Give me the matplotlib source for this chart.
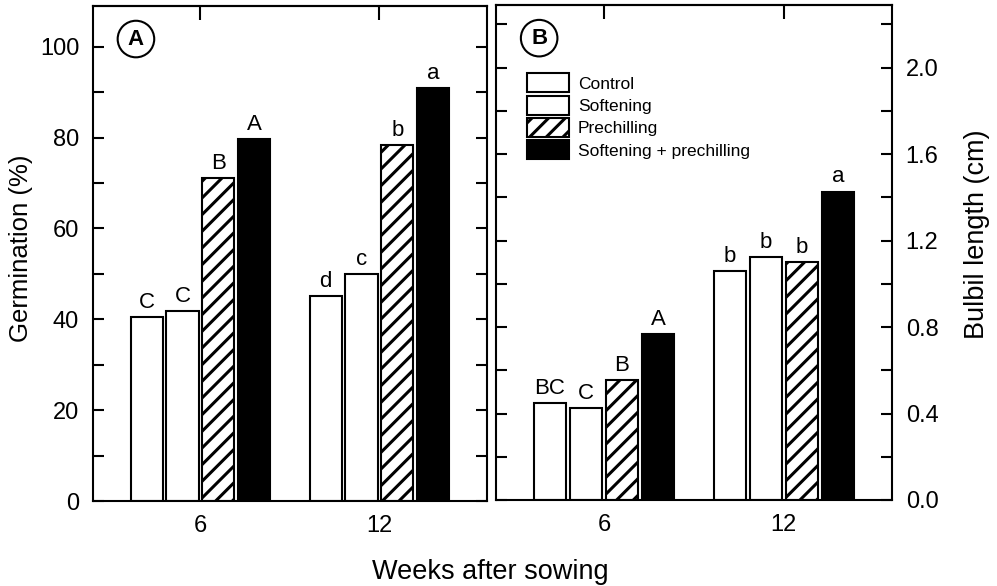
import matplotlib
matplotlib.use("Agg")
import matplotlib.pyplot as plt
import numpy as np
from matplotlib.patches import Patch
from matplotlib.ticker import MultipleLocator, FormatStrFormatter

plt.rcParams["font.family"] = ["Liberation Sans", "DejaVu Sans"]
plt.rcParams["hatch.linewidth"] = 2.2

# data
weeks = ["6", "12"]
treatments = ["Control", "Softening", "Prechilling", "Softening + prechilling"]
germination = [
    [40.4, 45.2],   # Control
    [41.9, 50.0],   # Softening
    [71.1, 78.3],   # Prechilling
    [79.7, 90.9],   # Softening + prechilling
]
germ_letters = [["C", "d"], ["C", "c"], ["B", "b"], ["A", "a"]]
bulbil = [
    [0.45, 1.057],
    [0.426, 1.125],
    [0.556, 1.099],
    [0.767, 1.427],
]
bulbil_letters = [["BC", "b"], ["C", "b"], ["B", "b"], ["A", "a"]]

faces = ["white", "white", "white", "black"]
hatches = [None, None, "//", None]
offsets = [-0.3, -0.1, 0.1, 0.3]
width = 0.18

fig = plt.figure(figsize=(9.97, 5.86), dpi=100)
axA = fig.add_axes([0.0933, 0.145, 0.395, 0.845])
axB = fig.add_axes([0.4975, 0.1468, 0.397, 0.8447])

x = np.arange(len(weeks))


def draw_bars(ax, values, letters):
    for i in range(len(treatments)):
        bars = ax.bar(x + offsets[i], values[i], width, color=faces[i],
                      edgecolor="black", linewidth=1.5, hatch=hatches[i],
                      label=treatments[i])
        for b, lab in zip(bars, letters[i]):
            ax.annotate(lab, (b.get_x() + b.get_width() / 2, b.get_height()),
                        xytext=(0, 3), textcoords="offset points",
                        ha="center", va="bottom", fontsize=16)


def style(ax):
    ax.set_xlim(-0.6, 1.6)
    ax.set_xticks(x)
    ax.set_xticklabels(weeks, fontsize=17)
    ax.tick_params(axis="x", length=0, pad=10)
    for spine in ax.spines.values():
        spine.set_linewidth(1.5)
    # short inward ticks on the top edge only
    sec = ax.secondary_xaxis("top")
    sec.set_xticks(x)
    sec.set_xticklabels([])
    sec.tick_params(direction="in", length=10, width=1.5)
    sec.spines["top"].set_linewidth(1.5)


# panel A
draw_bars(axA, germination, germ_letters)
style(axA)
axA.set_ylim(0, 109)
axA.yaxis.set_major_locator(MultipleLocator(20))
axA.yaxis.set_minor_locator(MultipleLocator(10))
axA.tick_params(axis="y", which="both", direction="in", left=True, right=True,
                length=8, width=1.5, labelsize=17, pad=10)
axA.set_ylabel("Germination (%)", fontsize=18.5, va="center")
axA.yaxis.set_label_coords(-0.183, 0.511)

# panel B
draw_bars(axB, bulbil, bulbil_letters)
style(axB)
axB.set_ylim(0, 2.29)
axB.yaxis.set_major_locator(MultipleLocator(0.4))
axB.yaxis.set_minor_locator(MultipleLocator(0.2))
axB.yaxis.set_major_formatter(FormatStrFormatter("%.1f"))
axB.tick_params(axis="y", which="both", direction="in", left=True, right=True,
                labelleft=False, labelright=True, length=8, width=1.5,
                labelsize=17, pad=10)
axB.yaxis.set_label_position("right")
axB.set_ylabel("Bulbil length (cm)", fontsize=19.5, va="center")
axB.yaxis.set_label_coords(1.215, 0.537)

for ax, lab in [(axA, "A"), (axB, "B")]:
    ax.text(0.109, 0.933, lab, transform=ax.transAxes, fontsize=16,
            fontweight="bold", ha="center", va="center",
            bbox=dict(boxstyle="circle,pad=0.35", fc="white", ec="black", lw=1.5))

handles = [Patch(facecolor=faces[i], edgecolor="black", linewidth=1.5,
                 hatch=hatches[i], label=treatments[i]) for i in range(4)]
axB.legend(handles=handles, loc="upper left", bbox_to_anchor=(0.078, 0.862),
           frameon=False, fontsize=12.5, handlelength=2.4, handleheight=1.3,
           labelspacing=0.2, handletextpad=0.55, borderpad=0, borderaxespad=0)

fig.text(0.492, 0.024, "Weeks after sowing", ha="center", va="center", fontsize=19.5)

fig.savefig("out.png", dpi=100)
